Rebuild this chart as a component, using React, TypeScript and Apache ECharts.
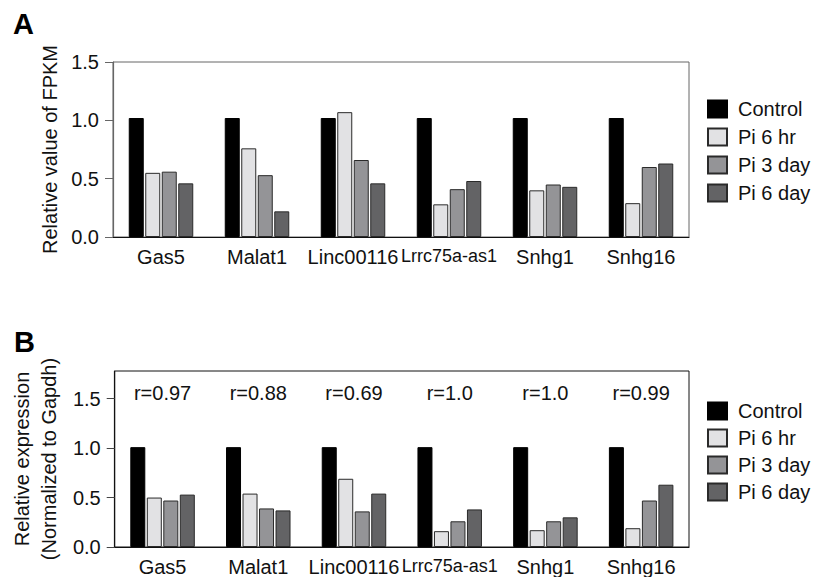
import React, { useEffect, useRef } from "react";
import * as echarts from "echarts";

const categories = ["Gas5", "Malat1", "Linc00116", "Lrrc75a-as1", "Snhg1", "Snhg16"];
const seriesNames = ["Control", "Pi 6 hr", "Pi 3 day", "Pi 6 day"];

// Panel A: relative value of FPKM
const fpkmControl = [1.02, 1.02, 1.02, 1.02, 1.02, 1.02];
const fpkmPi6hr = [0.55, 0.76, 1.07, 0.28, 0.4, 0.29];
const fpkmPi3day = [0.56, 0.53, 0.66, 0.41, 0.45, 0.6];
const fpkmPi6day = [0.46, 0.22, 0.46, 0.48, 0.43, 0.63];

// Panel B: relative expression (normalized to Gapdh)
const qpcrControl = [1.01, 1.01, 1.01, 1.01, 1.01, 1.01];
const qpcrPi6hr = [0.5, 0.54, 0.69, 0.16, 0.17, 0.19];
const qpcrPi3day = [0.47, 0.39, 0.36, 0.26, 0.26, 0.47];
const qpcrPi6day = [0.53, 0.37, 0.54, 0.38, 0.3, 0.63];

const rLabels = ["r=0.97", "r=0.88", "r=0.69", "r=1.0", "r=1.0", "r=0.99"];
const yTicks = [0, 0.5, 1.0, 1.5];

const fills = ["#000000", "#e2e2e4", "#949497", "#636365"];
const FONT = "Liberation Sans, Arial, Helvetica, sans-serif";

export default function App() {
  const ref = useRef<HTMLDivElement>(null);
  useEffect(() => {
    if (!ref.current) return;
    const chart = echarts.init(ref.current, undefined, { renderer: "svg" });

    const dataA = [fpkmControl, fpkmPi6hr, fpkmPi3day, fpkmPi6day];
    const dataB = [qpcrControl, qpcrPi6hr, qpcrPi3day, qpcrPi6day];

    const barSeries = (idx: number, data: number[][]) =>
      seriesNames.map((name, i) => ({
        type: "bar",
        name,
        xAxisIndex: idx,
        yAxisIndex: idx,
        data: data[i],
        barWidth: 15,
        barGap: "10%",
        itemStyle: {
          color: fills[i],
          borderColor: i === 0 ? "#000" : "#2a2a2a",
          borderWidth: 1,
        },
      }));

    const xLabel = {
      fontSize: 20,
      color: "#111",
      fontFamily: FONT,
      margin: 10,
      interval: 0,
      formatter: (v: string) => (v === "Lrrc75a-as1" ? `{n|${v}}` : v),
      rich: { n: { fontSize: 18, fontFamily: FONT, color: "#111" } },
    };

    const yLabel = {
      fontSize: 20,
      color: "#111",
      fontFamily: FONT,
      margin: 14,
      customValues: yTicks,
      formatter: (v: number) => v.toFixed(1),
    };

    const legendBase = {
      orient: "vertical",
      left: 707,
      padding: 0,
      icon: "rect",
      itemWidth: 19,
      itemHeight: 17,
      data: seriesNames,
      textStyle: {
        fontSize: 20,
        lineHeight: 20,
        color: "#111",
        fontFamily: FONT,
        padding: [0, 0, 0, 6],
      },
      selectedMode: false,
    };

    const option: any = {
      animation: false,
      backgroundColor: "#ffffff",
      textStyle: { fontFamily: FONT },
      graphic: [
        {
          type: "text",
          left: 13,
          top: 9,
          style: { text: "A", fontSize: 29, fontWeight: "bold", fill: "#000", fontFamily: FONT },
        },
        {
          type: "text",
          left: 14,
          top: 327,
          style: { text: "B", fontSize: 29, fontWeight: "bold", fill: "#000", fontFamily: FONT },
        },
      ],
      legend: [
        { ...legendBase, top: 99, itemGap: 8 },
        { ...legendBase, top: 401, itemGap: 7 },
      ],
      grid: [
        {
          left: 113,
          top: 62,
          width: 576,
          height: 175,
          show: true,
          borderColor: "#666",
          borderWidth: 1,
          backgroundColor: "transparent",
        },
        {
          left: 113,
          top: 371,
          width: 576,
          height: 176,
          show: true,
          borderColor: "#111",
          borderWidth: 1,
          backgroundColor: "transparent",
        },
      ],
      xAxis: [0, 1].map((i) => ({
        type: "category",
        gridIndex: i,
        data: categories,
        axisTick: { show: false },
        axisLine: { lineStyle: { color: "#111", width: 1.2 } },
        axisLabel: xLabel,
      })),
      yAxis: [
        {
          type: "value",
          gridIndex: 0,
          min: 0,
          max: 1.5,
          interval: 0.5,
          splitLine: { show: false },
          axisLine: { show: true, lineStyle: { color: "#666", width: 1.2 } },
          axisTick: { show: true, length: 8, lineStyle: { color: "#666" }, customValues: yTicks },
          axisLabel: yLabel,
          name: "Relative value of FPKM",
          nameLocation: "middle",
          nameGap: 45,
          nameTextStyle: { fontSize: 20, color: "#111", fontFamily: FONT },
        },
        {
          type: "value",
          gridIndex: 1,
          min: 0,
          max: 1.78,
          interval: 0.5,
          splitLine: { show: false },
          axisLine: { show: true, lineStyle: { color: "#111", width: 1.2 } },
          axisTick: { show: true, length: 8, lineStyle: { color: "#444" }, customValues: yTicks },
          axisLabel: yLabel,
          name: "Relative expression\n(Normalized to Gapdh)",
          nameLocation: "middle",
          nameGap: 43,
          nameTextStyle: { fontSize: 20, lineHeight: 27, color: "#111", fontFamily: FONT },
        },
      ],
      series: [
        ...barSeries(0, dataA),
        ...barSeries(1, dataB),
        {
          type: "scatter",
          xAxisIndex: 1,
          yAxisIndex: 1,
          symbolSize: 1,
          itemStyle: { color: "rgba(0,0,0,0)", opacity: 1 },
          silent: true,
          data: rLabels.map((_, i) => [i, 1.56]),
          label: {
            show: true,
            position: "inside",
            fontSize: 20,
            color: "#111",
            opacity: 1,
            fontFamily: FONT,
            formatter: (p: any) => rLabels[p.dataIndex],
          },
        },
      ],
    };

    chart.setOption(option);
    return () => chart.dispose();
  }, []);

  return (
    <div
      ref={ref}
      style={{ position: "fixed", left: 0, top: 0, width: 816, height: 577, background: "#fff" }}
    />
  );
}
